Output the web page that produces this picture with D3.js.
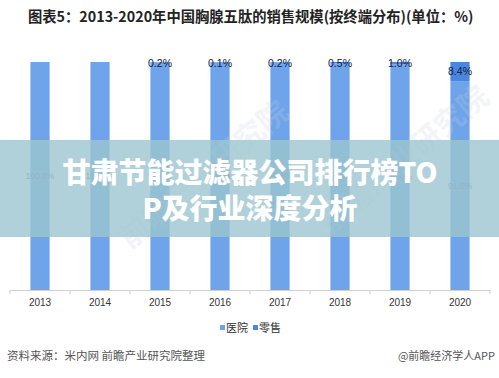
<!DOCTYPE html>
<html>
<head>
<meta charset="utf-8">
<script src="https://cdn.jsdelivr.net/npm/d3@7"></script>
<style>
  body { margin: 0; background: #fff; }
  svg { display: block; font-family: "Noto Sans CJK SC", "Microsoft YaHei", sans-serif; }
</style>
</head>
<body>
<svg id="chart" width="499" height="378"></svg>
<script>
'use strict';

const years = ["2013", "2014", "2015", "2016", "2017", "2018", "2019", "2020"];
const hospital = [100.0, 100.0, 99.8, 99.9, 99.8, 99.5, 99.0, 91.6];
const retail = [0.0, 0.0, 0.2, 0.1, 0.2, 0.5, 1.0, 8.4];
const seriesNames = ["医院", "零售"];
const seriesColors = ["#6fa3ea", "#4a86de"];

let svg = d3.select("#chart");

// title
svg.append("text")
	.attr("x", 28).attr("y", 22)
	.attr("font-size", 14.3).attr("font-weight", "bold").attr("fill", "#222")
	.text("图表5：2013-2020年中国胸腺五肽的销售规模(按终端分布)(单位：%)");

let x = d3.scaleBand().domain(years).range([10, 490]).paddingInner(0.68).paddingOuter(0.34);
let y = d3.scaleLinear().domain([0, 100]).range([290, 62]);

let data = years.map(function (d, i) {
	return { year: d, "医院": hospital[i], "零售": retail[i] };
});
let stacked = d3.stack().keys(seriesNames)(data);

let g = svg.append("g");
g.selectAll(".series")
	.data(stacked)
	.enter().append("g")
	.attr("fill", function (d, i) { return seriesColors[i]; })
	.selectAll("rect")
	.data(function (d) { return d; })
	.enter().append("rect")
	.attr("x", function (d) { return x(d.data.year); })
	.attr("y", function (d) { return y(d[1]); })
	.attr("width", x.bandwidth())
	.attr("height", function (d) { return Math.max(0, y(d[0]) - y(d[1])); });

// faint watermark
let wm = svg.append("g").attr("fill", "#c8d2de").attr("opacity", 0.22).attr("font-size", 30).attr("font-weight", "bold");
[[130, 250], [330, 235]].forEach(function (p) {
	wm.append("text").attr("transform", "translate(" + p[0] + "," + p[1] + ") rotate(-40)").text("前瞻产业研究院");
});

// hospital labels (middle of segment)
g.selectAll(".hlab")
	.data(data)
	.enter().append("text")
	.attr("x", function (d) { return x(d.year) + x.bandwidth() / 2; })
	.attr("y", function (d) { return (y(0) + y(d["医院"])) / 2 + 3; })
	.attr("text-anchor", "middle").attr("font-size", 8.5).attr("fill", "#6a7480")
	.attr("font-family", "Liberation Sans, sans-serif")
	.text(function (d) { return d["医院"].toFixed(1) + "%"; });

// retail labels
g.selectAll(".rlab")
	.data(data.filter(function (d) { return d["零售"] > 0; }))
	.enter().append("text")
	.attr("x", function (d) { return x(d.year) + x.bandwidth() / 2; })
	.attr("y", function (d) {
		let mid = (y(d["医院"]) + y(100)) / 2;
		return Math.max(mid, 63) + 3.5;
	})
	.attr("text-anchor", "middle").attr("font-size", 10.5).attr("fill", "#10203e")
	.attr("font-family", "Liberation Sans, sans-serif")
	.text(function (d) { return d["零售"].toFixed(1) + "%"; });

// x axis
let axis = svg.append("g")
	.attr("transform", "translate(0,290)")
	.call(d3.axisBottom(x).tickSize(0).tickPadding(9));
axis.select(".domain").attr("stroke", "#d0d0d0");
axis.selectAll("text").attr("font-size", 10).attr("fill", "#333").attr("font-family", "Liberation Sans, sans-serif");
axis.selectAll(".sep")
	.data(d3.range(years.length + 1))
	.enter().append("line")
	.attr("x1", function (i) { return 10 + i * x.step(); })
	.attr("x2", function (i) { return 10 + i * x.step(); })
	.attr("y1", 0).attr("y2", 4)
	.attr("stroke", "#d0d0d0");

// legend
let legend = svg.append("g").attr("transform", "translate(220,328)");
seriesNames.forEach(function (name, i) {
	let lg = legend.append("g").attr("transform", "translate(" + (i * 33) + ",0)");
	lg.append("rect").attr("x", 0).attr("y", -3).attr("width", 5).attr("height", 5).attr("fill", seriesColors[i]);
	lg.append("text").attr("x", 6).attr("y", 4).attr("font-size", 11).attr("fill", "#333").text(name);
});

// footer
svg.append("text").attr("x", 7).attr("y", 360).attr("font-size", 11.5).attr("fill", "#555")
	.text("资料来源：米内网 前瞻产业研究院整理");
svg.append("text").attr("x", 495).attr("y", 360).attr("text-anchor", "end").attr("font-size", 11).attr("fill", "#555")
	.text("@前瞻经济学人APP");

// overlay banner
svg.append("rect").attr("x", 0).attr("y", 140).attr("width", 499).attr("height", 97)
	.attr("fill", "#9cc6cf").attr("opacity", 0.8);
let banner = svg.append("g").attr("fill", "#fff").attr("font-size", 28).attr("font-weight", 900).attr("text-anchor", "middle");
banner.append("text").attr("x", 250).attr("y", 183).text("甘肃节能过滤器公司排行榜TO");
banner.append("text").attr("x", 250).attr("y", 219).text("P及行业深度分析");
</script>
</body>
</html>
